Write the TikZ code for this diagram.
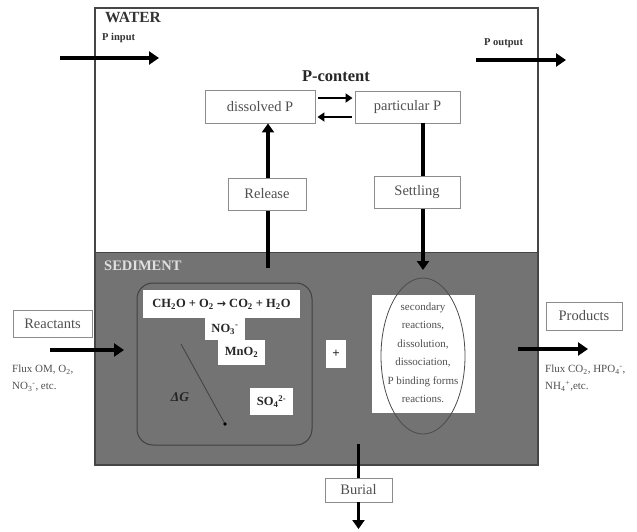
\documentclass[tikz,border=0pt]{standalone}
\usepackage{fontspec}
\setmainfont{Liberation Serif}
\newfontfamily\djv{DejaVu Sans}
\usetikzlibrary{arrows.meta,shapes.geometric}
\definecolor{sedgray}{RGB}{115,115,115}
\definecolor{framegray}{RGB}{70,70,70}
\definecolor{boxgray}{RGB}{140,140,140}
\definecolor{txtgray}{RGB}{80,80,80}
\begin{document}
\begin{tikzpicture}[x=1pt,y=-1pt,
  lbox/.style={draw=boxgray, fill=white, line width=0.9pt, text=txtgray,
    font=\fontsize{14.5}{16}\selectfont, inner sep=0pt, align=center},
  chem/.style={fill=white, draw=none, text=black!85,
    font=\bfseries\fontsize{12.5}{13}\selectfont, inner sep=0pt},
  bigarrow/.style={line width=3.8pt, black, -{Triangle[length=10pt,width=13pt]}},
  midarrow/.style={line width=3.6pt, black, -{Triangle[length=9pt,width=12pt]}},
  smallarrow/.style={line width=2.6pt, black, -{Triangle[length=7pt,width=9pt]}},
  note/.style={text=txtgray, font=\fontsize{11}{17}\selectfont, anchor=north west, inner sep=0pt, align=left}
]
\useasboundingbox (0,0) rectangle (637,531);
\fill[white] (0,0) rectangle (637,531);
% water and sediment
\fill[white] (95,8) rectangle (538,252);
\fill[sedgray] (95,252) rectangle (538,465);
\draw[framegray, line width=0.8pt] (95,252) -- (538,252);
\draw[framegray, line width=1.6pt] (95,8) rectangle (538,465);
\node[anchor=north west, inner sep=0pt, font=\bfseries\fontsize{15.5}{16}\selectfont, text=black!80] (water) at (105,12) {WATER};
\node[anchor=north west, inner sep=0pt, font=\bfseries\fontsize{10.5}{11}\selectfont, text=black!80] (pin) at (102,33) {P input};
\node[anchor=north west, inner sep=0pt, font=\bfseries\fontsize{10.5}{11}\selectfont, text=black!80] (pout) at (484,38) {P output};
\coordinate (pinA) at (60,58);
\coordinate (pinB) at (159,58);
\draw[bigarrow] (pinA) -- (pinB);
\coordinate (poutA) at (476,60);
\coordinate (poutB) at (566,60);
\draw[bigarrow] (poutA) -- (poutB);
\node[inner sep=0pt, font=\bfseries\fontsize{16.5}{17}\selectfont, text=black!85] (pcontent) at (336,76) {P-content};
\node[lbox, minimum width=110pt, minimum height=33pt] (dissolved) at (260,106.5) {dissolved P};
\node[lbox, minimum width=105pt, minimum height=32pt] (particular) at (407.5,107) {particular P};
\draw[smallarrow] ([xshift=3pt,yshift=8.5pt]dissolved.east) -- ([xshift=-2pt,yshift=9pt]particular.west);
\draw[smallarrow] ([xshift=-3pt,yshift=-10pt]particular.west) -- ([xshift=2pt,yshift=-10.5pt]dissolved.east);
% release & settling
\coordinate (relbase) at (268,268);
\coordinate (setend) at (423,270);
\draw[midarrow] (relbase) -- (relbase |- dissolved.south);
\draw[midarrow] (setend |- particular.south) -- (setend);
\node[lbox, minimum width=78pt, minimum height=32pt] (release) at (267,194) {Release};
\node[lbox, minimum width=86pt, minimum height=32pt] (settling) at (417,192) {Settling};
% sediment
\node[anchor=north west, inner sep=0pt, font=\bfseries\fontsize{14.5}{15}\selectfont, text=white!88!black] (sediment) at (104,261) {SEDIMENT};
\draw[black!75, line width=1pt, rounded corners=16pt] (137,283) rectangle (312,445);
\node[chem, minimum width=157pt, minimum height=28pt] (ch2o) at (221.5,304) {CH\textsubscript{2}O + O\textsubscript{2} {\djv\bfseries\fontsize{11}{11}\selectfont →} CO\textsubscript{2} + H\textsubscript{2}O};
\node[chem, minimum width=40pt, minimum height=22pt] (no3) at (225,329) {NO\textsubscript{3}\textsuperscript{-}};
\node[chem, minimum width=47pt, minimum height=25pt] (mno2) at (241.5,352.5) {MnO\textsubscript{2}};
\node[chem, minimum width=43pt, minimum height=27pt] (so4) at (271.5,401.5) {SO\textsubscript{4}\textsuperscript{2-}};
\coordinate (dgA) at (181,344);
\coordinate (dgB) at (225,424);
\draw[black!75, line width=0.8pt] (dgA) -- (dgB);
\fill[black] (dgB) circle (1.8pt);
\node[inner sep=0pt, font=\bfseries\itshape\fontsize{13.5}{14}\selectfont, text=black!85] (dg) at (180,397) {ΔG};
\node[chem, minimum width=20pt, minimum height=28pt, font=\bfseries\fontsize{13}{13}\selectfont] (plus) at (336,354) {+};
\node[fill=white, minimum width=103pt, minimum height=118pt, inner sep=0pt] (secbox) at (423.5,354) {};
\node[draw=black!70, line width=0.8pt, ellipse, minimum width=84pt, minimum height=156pt, inner sep=0pt] (ell) at (423,356) {};
\node[text=txtgray, font=\fontsize{11}{18.5}\selectfont, align=center, inner sep=0pt] (sectext) at (423,353) {secondary\\reactions,\\dissolution,\\dissociation,\\P binding forms\\reactions.};
% reactants / products
\node[lbox, minimum width=79pt, minimum height=27pt] (reactants) at (52.5,323.5) {Reactants};
\coordinate (reA) at (50,350);
\coordinate (reB) at (124,350);
\draw[bigarrow] (reA) -- (reB);
\node[note] (flux1) at (12,365) {Flux OM, O\textsubscript{2},\\NO\textsubscript{3}\textsuperscript{-}, etc.};
\node[lbox, minimum width=76pt, minimum height=28pt] (products) at (584,316) {Products};
\coordinate (prA) at (518,349);
\coordinate (prB) at (588,349);
\draw[bigarrow] (prA) -- (prB);
\node[note] (flux2) at (545,365) {Flux CO\textsubscript{2}, HPO\textsubscript{4}\textsuperscript{-},\\NH\textsubscript{4}\textsuperscript{+},etc.};
% burial
\node[lbox, minimum width=67pt, minimum height=24pt] (burial) at (358.5,490) {Burial};
\coordinate (buA) at (358.5,444);
\coordinate (buB) at (358.5,529);
\draw[line width=3.4pt, black] (buA) -- (burial.north);
\draw[midarrow] (burial.south) -- (buB);
\end{tikzpicture}
\end{document}
